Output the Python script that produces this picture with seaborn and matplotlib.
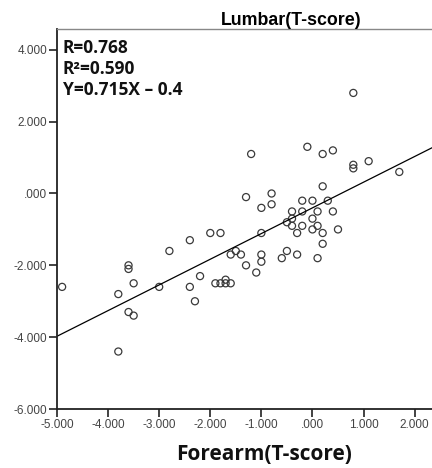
import matplotlib
matplotlib.use("Agg")
import matplotlib.pyplot as plt
from matplotlib.ticker import FuncFormatter
import numpy as np
import pandas as pd
import seaborn as sns

# forearm vs lumbar T-scores
forearm = [-4.9, -3.8, -3.8, -3.6, -3.6, -3.5, -3.6, -3.5, -3.0, -2.8,
           -2.4, -2.4, -2.2, -2.3, -2.0, -1.9, -1.8, -1.8, -1.7, -1.7,
           -1.6, -1.6, -1.5, -1.4, -1.3, -1.3, -1.2, -1.1, -1.0, -1.0,
           -1.0, -1.0, -0.8, -0.8, -0.6, -0.5, -0.5, -0.4, -0.4, -0.4,
           -0.3, -0.3, -0.2, -0.2, -0.2, -0.1, 0.0, 0.0, 0.0, 0.1,
           0.1, 0.1, 0.2, 0.2, 0.2, 0.2, 0.3, 0.4, 0.4, 0.5,
           0.8, 0.8, 0.8, 1.1, 1.7]
lumbar = [-2.6, -2.8, -4.4, -2.0, -2.1, -2.5, -3.3, -3.4, -2.6, -1.6,
          -2.6, -1.3, -2.3, -3.0, -1.1, -2.5, -2.5, -1.1, -2.5, -2.4,
          -2.5, -1.7, -1.6, -1.7, -2.0, -0.1, 1.1, -2.2, -1.7, -1.9,
          -1.1, -0.4, -0.3, 0.0, -1.8, -1.6, -0.8, -0.7, -0.5, -0.9,
          -1.7, -1.1, -0.2, -0.5, -0.9, 1.3, -0.2, -0.7, -1.0, -0.5,
          -0.9, -1.8, -1.4, -1.1, 0.2, 1.1, -0.2, -0.5, 1.2, -1.0,
          2.8, 0.8, 0.7, 0.9, 0.6]

slope = 0.715
intercept = -0.4
stats_lines = ["R=0.768", "R\u00b2=0.590", "Y=0.715X \u2013 0.4"]

x_ticks = [-5, -4, -3, -2, -1, 0, 1, 2]
y_ticks = [-6, -4, -2, 0, 2, 4]

df = pd.DataFrame({"forearm": forearm, "lumbar": lumbar})

sns.set_style("white")
plt.rcParams["font.family"] = ["Liberation Sans", "DejaVu Sans"]

fig = plt.figure(figsize=(4.32, 4.68), dpi=100)
ax = fig.add_axes([57 / 432, 59 / 468, 1 - 57 / 432, 380 / 468])

xmin, xmax = -5, 2.34
ymin, ymax = -6, 4.58

xl = np.array([xmin, xmax])
line_df = pd.DataFrame({"x": xl, "y": slope * xl + intercept})
sns.lineplot(data=line_df, x="x", y="y", color="black", linewidth=0.9, ax=ax)

sns.scatterplot(data=df, x="forearm", y="lumbar", ax=ax, s=26,
                facecolor="none", edgecolor="#3a3a3a", linewidth=0.9)

ax.set_xlim(xmin, xmax)
ax.set_ylim(ymin, ymax)
ax.set_xticks(x_ticks)
ax.set_yticks(y_ticks)


def fmt(v, pos):
    s = "%.3f" % v
    if s.startswith("0."):
        s = s[1:]
    if s == "-0.000":
        s = ".000"
    return s


ax.xaxis.set_major_formatter(FuncFormatter(fmt))
ax.yaxis.set_major_formatter(FuncFormatter(fmt))
ax.tick_params(axis="both", direction="out", length=6, width=1.2,
               color="#222222", labelsize=8.5, labelcolor="#444444", pad=1,
               bottom=True, left=True)

ax.spines["right"].set_visible(False)
ax.spines["top"].set_color("#888888")
ax.spines["top"].set_linewidth(1.0)
for sp in ["left", "bottom"]:
    ax.spines[sp].set_color("#222222")
    ax.spines[sp].set_linewidth(1.3)

ax.set_xlabel("")
ax.set_ylabel("")

fig.text(362 / 432, 1 - 25 / 468, "Lumbar(T-score)", ha="right", va="baseline",
         fontsize=12.8, fontweight="bold", color="black")
fig.text(264 / 432, 1 - 460 / 468, "Forearm(T-score)", ha="center", va="baseline",
         fontsize=15, fontweight="bold", family=["Open Sans", "DejaVu Sans"],
         color="#111111")

for i, t in enumerate(stats_lines):
    fig.text(63 / 432, 1 - (53 + i * 21) / 468, t, ha="left", va="baseline",
             fontsize=12.5, fontweight="bold", family=["Open Sans", "DejaVu Sans"],
             color="#111111")

fig.savefig("out.png", dpi=100)
